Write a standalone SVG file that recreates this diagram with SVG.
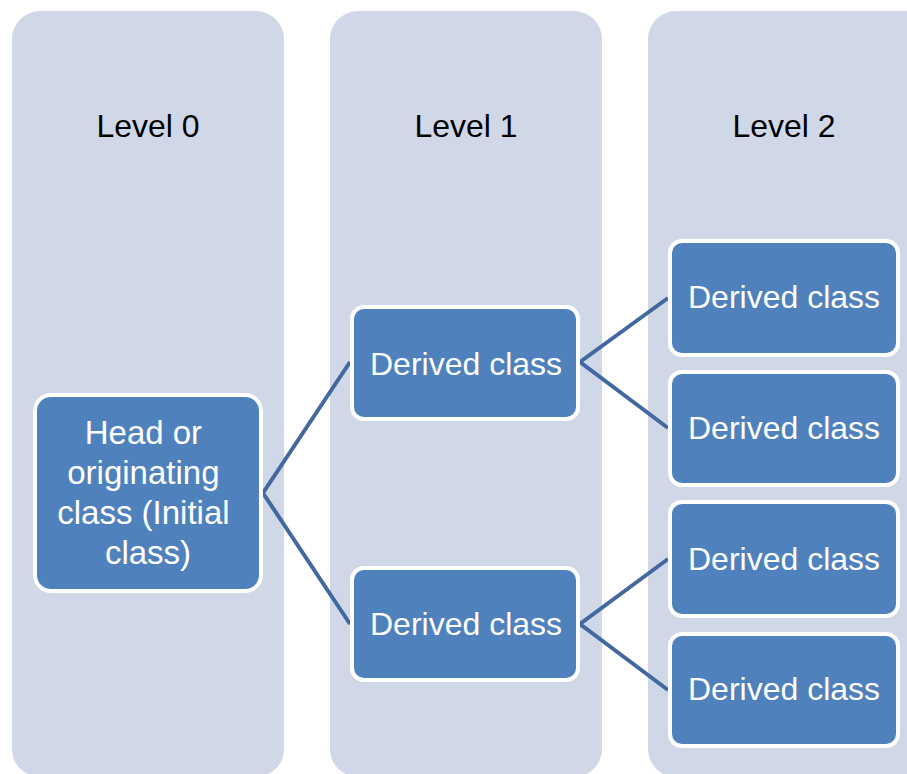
<svg xmlns="http://www.w3.org/2000/svg" width="907" height="774" viewBox="0 0 907 774">
  <style>
    .lane { fill: #D0D8E8; }
    .lane-title { font-family: "Liberation Sans", Arial, sans-serif; font-size: 32px; fill: #000000; text-anchor: middle; }
    .box { fill: #4F81BD; stroke: #FFFFFF; stroke-width: 4; }
    .box-text { font-family: "Liberation Sans", Arial, sans-serif; font-size: 32px; fill: #FFFFFF; text-anchor: middle; }
    .head-text { font-size: 33px; }
    .link { stroke: #4268A0; stroke-width: 4; fill: none; }
  </style>
  <rect width="907" height="774" fill="#FFFFFF"/>

  <!-- level lanes -->
  <g id="lane-0">
    <rect class="lane" x="12" y="11" width="272" height="766" rx="28"/>
    <text class="lane-title" x="148" y="137">Level 0</text>
  </g>
  <g id="lane-1">
    <rect class="lane" x="330" y="11" width="272" height="766" rx="28"/>
    <text class="lane-title" x="466" y="137">Level 1</text>
  </g>
  <g id="lane-2">
    <rect class="lane" x="648" y="11" width="290" height="766" rx="28"/>
    <text class="lane-title" x="784" y="137">Level 2</text>
  </g>

  <!-- connectors -->
  <g id="connectors">
    <polyline class="link" points="350,362 263,493 350,624"/>
    <polyline class="link" points="668,298 580,362 668,428"/>
    <polyline class="link" points="668,559 580,624 668,690"/>
  </g>

  <!-- nodes -->
  <g id="head">
    <rect class="box" x="35" y="395" width="226" height="196" rx="16"/>
    <text class="box-text head-text">
      <tspan x="148" y="444">Head or</tspan>
      <tspan x="148" y="484">originating</tspan>
      <tspan x="148" y="524">class (Initial</tspan>
      <tspan x="148" y="564">class)</tspan>
    </text>
  </g>
  <g id="derived-1a">
    <rect class="box" x="352" y="307" width="226" height="112" rx="12"/>
    <text class="box-text" x="466" y="375">Derived class</text>
  </g>
  <g id="derived-1b">
    <rect class="box" x="352" y="568" width="226" height="112" rx="12"/>
    <text class="box-text" x="466" y="635">Derived class</text>
  </g>
  <g id="derived-2a">
    <rect class="box" x="670" y="241" width="228" height="114" rx="12"/>
    <text class="box-text" x="784" y="308">Derived class</text>
  </g>
  <g id="derived-2b">
    <rect class="box" x="670" y="372" width="228" height="113" rx="12"/>
    <text class="box-text" x="784" y="439">Derived class</text>
  </g>
  <g id="derived-2c">
    <rect class="box" x="670" y="502" width="228" height="114" rx="12"/>
    <text class="box-text" x="784" y="570">Derived class</text>
  </g>
  <g id="derived-2d">
    <rect class="box" x="670" y="634" width="228" height="112" rx="12"/>
    <text class="box-text" x="784" y="700">Derived class</text>
  </g>
</svg>
